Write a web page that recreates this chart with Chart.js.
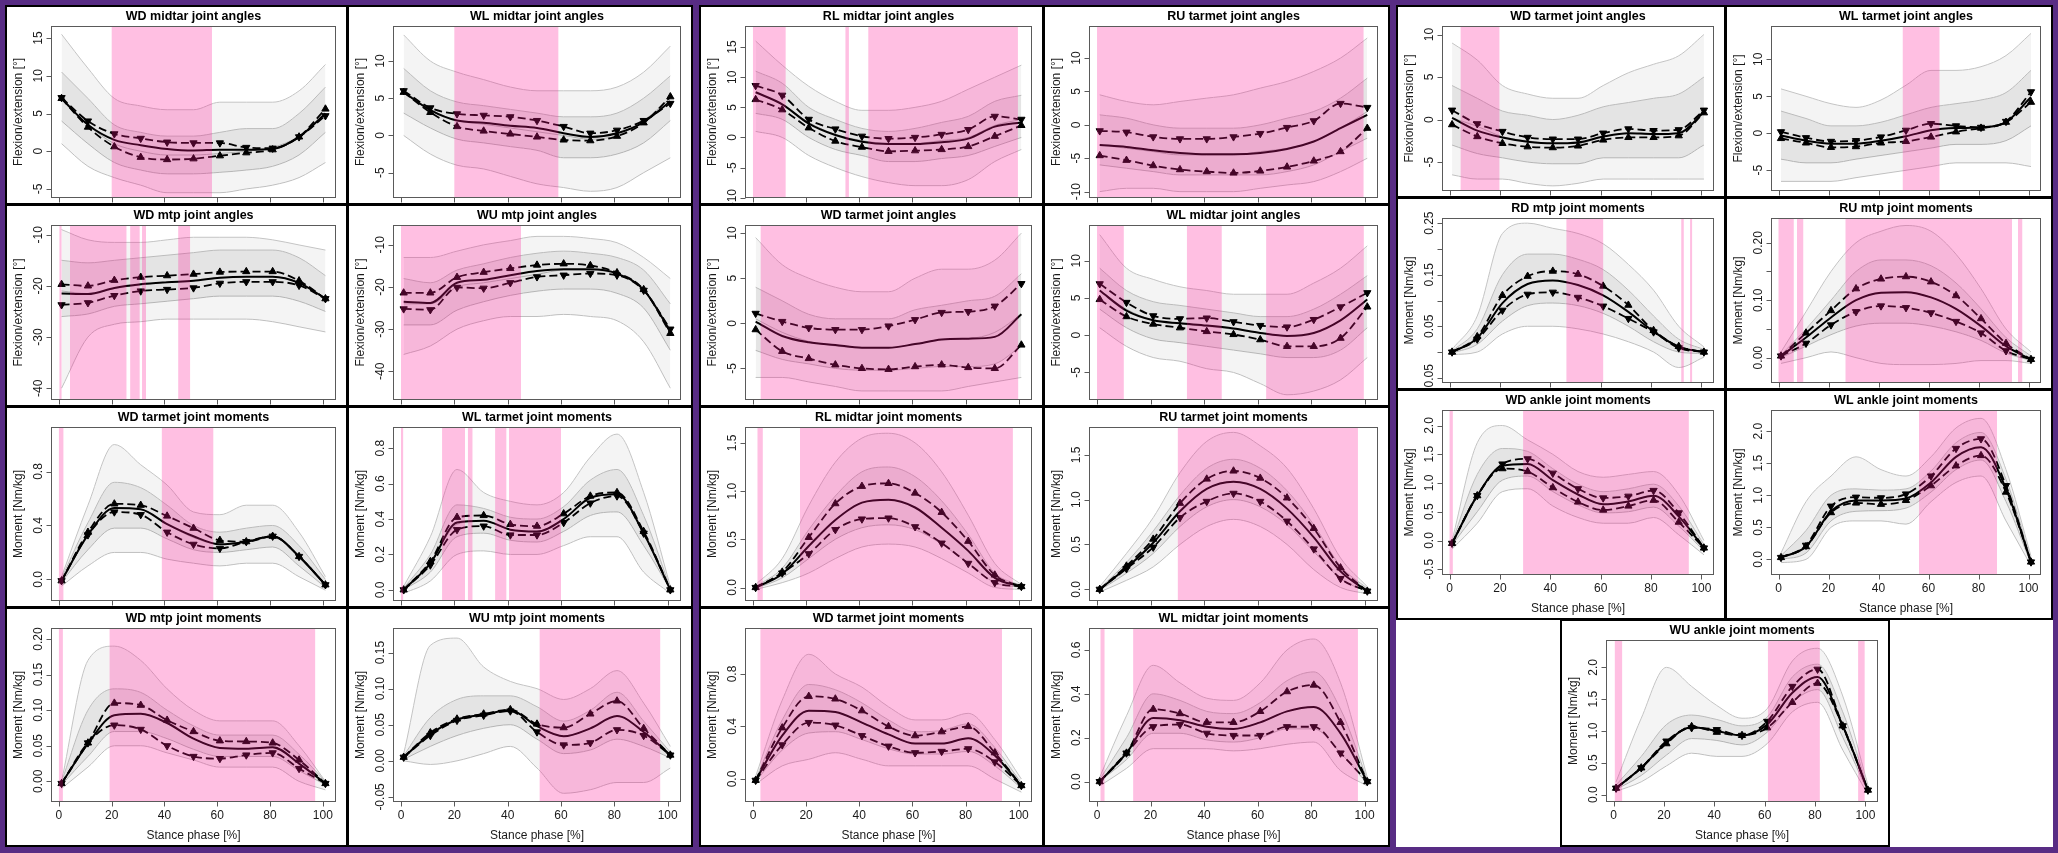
<!DOCTYPE html>
<html>
<head>
<meta charset="utf-8">
<script src="https://cdn.jsdelivr.net/npm/chart.js@4.4.1/dist/chart.umd.min.js"></script>
<style>
  html, body { margin: 0; padding: 0; background: #fff; }
  #page { position: relative; width: 2058px; height: 853px; overflow: hidden; background: #fff; }
  .frame { position: absolute; background: #582c84; }
  .panel { position: absolute; }
  .panel canvas { display: block; }
</style>
</head>
<body>
<div id="page"></div>
<script>
// stance phase samples (every 10 %) and x tick labels
var phase = [1, 11, 21, 31, 41, 51, 61, 71, 81, 91, 101];
var stanceTicks = [0, 20, 40, 60, 80, 100];
var angleLabel = 'Flexion/extension [°]';
var momentLabel = 'Moment [Nm/kg]';

// WD midtar joint angles
var p01Mean = [7.0, 3.5, 1.5, 0.8, 0.3, 0.1, 0.2, 0.2, 0.3, 1.9, 5.0];
var p01Up = [7.0, 3.2, 0.6, -0.8, -1.1, -1.0, -0.6, -0.2, 0.2, 1.9, 5.6];
var p01Down = [7.1, 4.0, 2.3, 1.7, 1.2, 1.1, 1.1, 0.5, 0.4, 1.9, 4.7];
var p01Gray = [[15.5, 11, 7, 6, 5.5, 5.5, 6.5, 6.5, 6.5, 8, 11.5], [10.5, 7, 3.5, 2.5, 2, 2, 2.5, 3, 3, 5, 8.5], [7, 3.5, 1, 0, -0.5, -0.5, -0.3, 0, 0.5, 2, 5], [4, 1, -1.5, -2.5, -3, -3, -2.8, -2.5, -2, -0.5, 2.5], [1, -2, -3.5, -4.5, -5.5, -5.5, -5.5, -5, -4.5, -3.5, -1.5]];
var p01Pink = [[20, 58]];
var p01Ticks = [-5, 0, 5, 10, 15];
var p01TickLabels = ['-5', '0', '5', '10', '15'];

// WL midtar joint angles
var p02Mean = [5.8, 3.4, 2.0, 1.7, 1.3, 1.0, 0.3, -0.2, 0.3, 1.8, 4.6];
var p02Up = [5.8, 3.1, 1.2, 0.6, 0.2, -0.2, -0.6, -0.7, -0.1, 1.7, 5.2];
var p02Down = [6.0, 3.7, 2.9, 2.7, 2.5, 2.0, 1.2, 0.3, 0.7, 2.0, 4.3];
var p02Gray = [[13.5, 10, 8.5, 7.5, 6.5, 6, 6, 6, 6.5, 8.5, 12], [9, 6, 4.5, 4, 3.5, 3, 2.5, 2.5, 3, 5, 8], [6, 3.5, 2, 1.5, 1, 0.5, 0, -0.5, 0, 2, 5], [3, 1, -0.5, -1, -1.5, -2, -3, -3, -2.5, -1, 2], [0, -2.5, -4, -4.5, -5.5, -6.5, -7, -7.5, -7, -5, -3]];
var p02Pink = [[20, 59]];
var p02Ticks = [-5, 0, 5, 10];
var p02TickLabels = ['-5', '0', '5', '10'];

// RL midtar joint angles
var p03Mean = [7.5, 5.5, 2.3, 0.4, -0.7, -1.1, -1.1, -0.8, -0.2, 1.8, 2.5];
var p03Up = [6.3, 4.6, 1.6, -0.6, -1.6, -2.3, -2.2, -2.0, -1.5, 0.2, 2.0];
var p03Down = [8.6, 7.0, 3.0, 1.4, 0.2, -0.2, 0.0, 0.5, 1.3, 3.5, 3.0];
var p03Gray = [[16, 12, 8.5, 6, 4.5, 4.5, 5, 6, 8, 10, 12], [11, 9, 5, 3, 1.5, 1, 1.5, 2.5, 3.5, 6, 7], [7.5, 5.5, 2.5, 0.5, -0.5, -1, -1, -0.5, 0, 2, 3], [4, 3, 0, -2, -3, -4, -4, -3.5, -3, -1.5, 0], [1, 0, -3, -5, -6.5, -7.5, -8, -8, -7, -4, -2]];
var p03Pink = [[0, 12.3], [34.8, 36.1], [43.4, 99.7]];
var p03Ticks = [-10, -5, 0, 5, 10, 15];
var p03TickLabels = ['-10', '-5', '0', '5', '10', '15'];

// RU tarmet joint angles
var p04Mean = [-3.0, -3.3, -3.8, -4.2, -4.4, -4.4, -4.2, -3.6, -2.5, -0.5, 1.5];
var p04Up = [-4.6, -5.3, -6.1, -6.7, -7.0, -7.2, -6.9, -6.3, -5.4, -4.0, -0.5];
var p04Down = [-0.9, -1.1, -1.8, -2.1, -2.1, -1.8, -1.3, -0.4, 0.6, 3.2, 2.6];
var p04Gray = [[4.5, 3.5, 3, 3.5, 4, 4.5, 5.5, 6.5, 8, 10, 13], [1.5, 1, 0, -0.5, -0.5, -0.5, 0, 1, 2, 4, 7], [-3, -3.5, -4, -4.5, -4.5, -4.5, -4, -3.5, -2.5, -0.5, 2], [-6, -6.5, -7, -7.5, -7.5, -7.5, -7.5, -7, -6, -4, -2], [-10, -9.5, -9.5, -10, -10, -10, -9.5, -9, -8.5, -7, -5]];
var p04Pink = [[0, 99.6]];
var p04Ticks = [-10, -5, 0, 5, 10];
var p04TickLabels = ['-10', '-5', '0', '5', '10'];

// WD mtp joint angles
var p05Mean = [-21.5, -21.6, -20.4, -19.7, -19.3, -19.0, -18.4, -18.2, -18.2, -19.4, -22.5];
var p05Up = [-19.7, -20.0, -18.9, -18.3, -18.0, -17.7, -17.3, -17.2, -17.2, -19.0, -22.5];
var p05Down = [-23.7, -23.3, -21.9, -21.0, -20.7, -20.4, -19.5, -19.2, -19.2, -19.9, -22.5];
var p05Gray = [[-9, -11, -11.5, -11.5, -11, -10.5, -10.5, -10.5, -11, -12, -13], [-15, -15.5, -15, -14.5, -14, -13.5, -13, -13, -13, -14.5, -18], [-21, -21.5, -20.5, -19.8, -19.3, -19, -18.5, -18.2, -18.2, -19.5, -22.5], [-26, -25.5, -24, -23.5, -23, -22.5, -22, -22, -22, -23, -25], [-40, -30, -27.5, -27, -26.5, -26.5, -26.5, -26.5, -27, -28, -29]];
var p05Pink = [[0.2, 1.0], [4.2, 25.6], [27, 30.6], [31.5, 33], [45.2, 49.7]];
var p05Ticks = [-40, -30, -20, -10];
var p05TickLabels = ['-40', '-30', '-20', '-10'];

// WU mtp joint angles
var p06Mean = [-23.5, -23.8, -19.0, -18.3, -17.2, -16.2, -15.8, -15.8, -16.8, -20.7, -30.5];
var p06Up = [-21.4, -21.4, -17.7, -16.5, -15.6, -14.8, -14.5, -14.9, -16.6, -20.6, -31.0];
var p06Down = [-25.2, -25.4, -20.1, -20.3, -19.0, -17.6, -17.2, -16.8, -17.2, -20.8, -30.0];
var p06Gray = [[-13, -13, -11.5, -10, -9, -8, -8, -8.5, -9.5, -13, -18], [-18, -19, -16, -14.5, -13, -12, -11.5, -12, -13, -16, -24], [-24, -24, -20, -19, -18, -17, -16, -16, -17, -20.5, -30], [-29, -29, -25.5, -23.5, -22, -21, -20.5, -20.5, -21.5, -25, -35], [-36, -34, -30, -28, -27, -27, -26.5, -27, -28, -33, -44]];
var p06Pink = [[0, 45]];
var p06Ticks = [-40, -30, -20, -10];
var p06TickLabels = ['-40', '-30', '-20', '-10'];

// WD tarmet joint moments (row 3)
var p07Mean = [-0.01, 0.33, 0.53, 0.52, 0.41, 0.32, 0.26, 0.28, 0.32, 0.17, -0.04];
var p07Up = [-0.01, 0.35, 0.56, 0.55, 0.47, 0.38, 0.29, 0.28, 0.32, 0.17, -0.04];
var p07Down = [-0.01, 0.33, 0.50, 0.48, 0.35, 0.26, 0.23, 0.28, 0.32, 0.17, -0.04];
var p07Gray = [[0.02, 0.55, 1.0, 0.85, 0.7, 0.5, 0.48, 0.55, 0.55, 0.35, 0.02], [0.01, 0.42, 0.72, 0.68, 0.55, 0.4, 0.35, 0.38, 0.4, 0.25, 0], [-0.01, 0.32, 0.53, 0.52, 0.41, 0.31, 0.26, 0.28, 0.31, 0.17, -0.04], [-0.02, 0.22, 0.38, 0.38, 0.3, 0.22, 0.2, 0.22, 0.24, 0.1, -0.06], [-0.05, 0.1, 0.2, 0.2, 0.15, 0.12, 0.1, 0.12, 0.12, 0.02, -0.08]];
var p07Pink = [[0, 1.7], [39, 58.5]];
var p07Ticks = [0, 0.4, 0.8];
var p07TickLabels = ['0.0', '0.4', '0.8'];

// WL tarmet joint moments
var p08Mean = [0, 0.15, 0.38, 0.39, 0.34, 0.33, 0.40, 0.52, 0.54, 0.32, 0.0];
var p08Up = [0, 0.16, 0.41, 0.42, 0.37, 0.36, 0.43, 0.53, 0.55, 0.33, 0.0];
var p08Down = [0, 0.14, 0.34, 0.36, 0.31, 0.31, 0.38, 0.49, 0.53, 0.32, 0.0];
var p08Gray = [[0.02, 0.3, 0.68, 0.55, 0.5, 0.48, 0.55, 0.75, 0.88, 0.55, 0.02], [0.01, 0.2, 0.48, 0.46, 0.41, 0.4, 0.47, 0.62, 0.68, 0.42, 0.01], [0, 0.15, 0.37, 0.39, 0.34, 0.33, 0.4, 0.52, 0.54, 0.32, 0], [0, 0.1, 0.3, 0.32, 0.28, 0.27, 0.33, 0.42, 0.44, 0.25, 0], [-0.02, 0.05, 0.2, 0.22, 0.2, 0.2, 0.25, 0.3, 0.3, 0.1, -0.02]];
var p08Pink = [[0, 0.8], [15.4, 24], [25.1, 26.8], [35.3, 39.5], [40.5, 60]];
var p08Ticks = [0, 0.2, 0.4, 0.6, 0.8];
var p08TickLabels = ['0.0', '0.2', '0.4', '0.6', '0.8'];

// WD tarmet joint angles (row 2)
var p09Mean = [0.2, -1.4, -2.1, -2.4, -2.7, -2.7, -2.3, -1.8, -1.7, -1.5, 1.0];
var p09Up = [-0.7, -3.1, -3.9, -4.6, -5.0, -5.1, -4.8, -4.6, -4.9, -5.0, -2.4];
var p09Down = [1.1, 0.2, -0.5, -0.7, -0.7, -0.3, 0.4, 1.2, 1.3, 1.9, 4.4];
var p09Gray = [[9.5, 6.5, 5, 4, 3.5, 3.5, 5, 6, 6, 7, 10], [4, 2.5, 1, 0.5, 0.5, 0.5, 1.5, 2, 2.5, 3, 5.5], [0.5, -1, -2, -2.5, -2.7, -2.7, -2.3, -1.8, -1.7, -1, 1], [-3, -4, -4.5, -5, -5.2, -5.2, -5, -4.8, -4.8, -4.5, -2.5], [-6, -6, -6.5, -7, -7.5, -7.5, -7.5, -7.5, -7, -6.5, -6]];
var p09Pink = [[2.9, 99.8]];
var p09Ticks = [-5, 0, 5, 10];
var p09TickLabels = ['-5', '0', '5', '10'];

// WL midtar joint angles (row 2)
var p10Mean = [6.0, 3.3, 2.0, 1.6, 1.3, 0.9, 0.3, -0.1, 0.3, 2.0, 4.8];
var p10Up = [4.8, 2.5, 1.5, 1.0, 0.5, 0.1, -0.6, -1.5, -1.5, -0.4, 3.8];
var p10Down = [6.9, 4.4, 2.6, 2.2, 2.3, 1.8, 1.3, 1.1, 2.1, 3.8, 5.7];
var p10Gray = [[13.5, 9, 7.5, 6.5, 6, 5.5, 5.5, 5.5, 7, 9, 12], [9, 6, 4.5, 4, 3.5, 3, 2.5, 2.5, 3.5, 5.5, 8], [6, 3.5, 2, 1.5, 1.2, 0.8, 0.3, -0.1, 0.3, 2, 4.8], [3.5, 1, -0.5, -1, -1.5, -2, -2.5, -3, -3, -2, 1], [1, -1.5, -3, -3.5, -4.5, -5, -6.5, -8, -7.5, -6, -3]];
var p10Pink = [[0, 10], [33.6, 46.6], [63.2, 99.7]];
var p10Ticks = [-5, 0, 5, 10];
var p10TickLabels = ['-5', '0', '5', '10'];

// RL midtar joint moments
var p11Mean = [0, 0.14, 0.43, 0.70, 0.88, 0.91, 0.83, 0.62, 0.38, 0.10, 0.01];
var p11Up = [0, 0.16, 0.52, 0.87, 1.05, 1.08, 0.98, 0.78, 0.48, 0.13, 0.01];
var p11Down = [0, 0.15, 0.35, 0.60, 0.71, 0.72, 0.63, 0.46, 0.25, 0.05, 0.01];
var p11Gray = [[0.03, 0.3, 0.85, 1.3, 1.55, 1.6, 1.5, 1.2, 0.75, 0.25, 0.03], [0.01, 0.2, 0.6, 0.95, 1.2, 1.25, 1.15, 0.9, 0.55, 0.15, 0.02], [0, 0.14, 0.43, 0.7, 0.88, 0.91, 0.83, 0.62, 0.38, 0.1, 0.01], [-0.01, 0.1, 0.3, 0.5, 0.62, 0.65, 0.6, 0.45, 0.25, 0.05, 0], [-0.02, 0.05, 0.15, 0.3, 0.42, 0.45, 0.42, 0.3, 0.15, 0, -0.02]];
var p11Pink = [[1.7, 3.7], [17.7, 97.8]];
var p11Ticks = [0, 0.5, 1, 1.5];
var p11TickLabels = ['0.0', '0.5', '1.0', '1.5'];

// RU tarmet joint moments
var p12Mean = [0, 0.24, 0.52, 0.87, 1.12, 1.20, 1.12, 0.90, 0.58, 0.20, -0.02];
var p12Up = [0, 0.26, 0.56, 0.96, 1.23, 1.32, 1.24, 1.02, 0.68, 0.24, -0.02];
var p12Down = [0, 0.23, 0.47, 0.80, 0.98, 1.07, 0.98, 0.76, 0.45, 0.12, -0.02];
var p12Gray = [[0.03, 0.4, 0.8, 1.3, 1.65, 1.75, 1.6, 1.35, 0.9, 0.35, 0.03], [0.01, 0.3, 0.65, 1.05, 1.35, 1.45, 1.35, 1.1, 0.72, 0.26, 0.01], [0, 0.24, 0.52, 0.87, 1.12, 1.2, 1.12, 0.9, 0.58, 0.2, -0.02], [-0.01, 0.18, 0.4, 0.7, 0.92, 1.0, 0.92, 0.72, 0.42, 0.12, -0.03], [-0.03, 0.1, 0.25, 0.5, 0.7, 0.78, 0.7, 0.5, 0.22, 0.02, -0.05]];
var p12Pink = [[30.2, 97.5]];
var p12Ticks = [0, 0.5, 1, 1.5];
var p12TickLabels = ['0.0', '0.5', '1.0', '1.5'];

// WD mtp joint moments
var p13Mean = [-0.003, 0.053, 0.093, 0.095, 0.082, 0.060, 0.047, 0.046, 0.048, 0.025, -0.003];
var p13Up = [-0.003, 0.054, 0.110, 0.107, 0.086, 0.070, 0.057, 0.056, 0.054, 0.030, -0.003];
var p13Down = [-0.003, 0.054, 0.079, 0.073, 0.050, 0.035, 0.032, 0.037, 0.040, 0.018, -0.003];
var p13Gray = [[0.0, 0.17, 0.19, 0.17, 0.13, 0.1, 0.085, 0.085, 0.085, 0.05, 0.0], [0.0, 0.1, 0.13, 0.125, 0.1, 0.078, 0.065, 0.065, 0.065, 0.038, 0], [-0.003, 0.053, 0.093, 0.095, 0.082, 0.06, 0.047, 0.046, 0.048, 0.025, -0.003], [-0.005, 0.035, 0.07, 0.07, 0.06, 0.045, 0.035, 0.035, 0.035, 0.015, -0.005], [-0.01, 0.02, 0.05, 0.05, 0.04, 0.03, 0.02, 0.02, 0.02, 0.0, -0.012]];
var p13Pink = [[0, 1.5], [19.2, 97.1]];
var p13Ticks = [0, 0.05, 0.1, 0.15, 0.2];
var p13TickLabels = ['0.00', '0.05', '0.10', '0.15', '0.20'];

// WU mtp joint moments
var p14Mean = [0.005, 0.037, 0.057, 0.064, 0.070, 0.048, 0.034, 0.045, 0.062, 0.040, 0.008];
var p14Up = [0.005, 0.039, 0.058, 0.065, 0.071, 0.051, 0.046, 0.065, 0.083, 0.045, 0.008];
var p14Down = [0.005, 0.035, 0.056, 0.063, 0.069, 0.040, 0.022, 0.025, 0.043, 0.035, 0.008];
var p14Gray = [[0.01, 0.16, 0.17, 0.13, 0.11, 0.1, 0.085, 0.1, 0.125, 0.08, 0.02], [0.007, 0.06, 0.085, 0.09, 0.09, 0.075, 0.055, 0.07, 0.095, 0.055, 0.012], [0.005, 0.037, 0.057, 0.064, 0.07, 0.048, 0.034, 0.045, 0.062, 0.04, 0.008], [0.002, 0.02, 0.035, 0.045, 0.05, 0.03, 0.01, 0.015, 0.03, 0.02, 0.004], [0, -0.005, 0.0, 0.01, 0.02, -0.01, -0.045, -0.04, -0.03, -0.03, -0.01]];
var p14Pink = [[52, 97.2]];
var p14Ticks = [-0.05, 0, 0.05, 0.1, 0.15];
var p14TickLabels = ['-0.05', '0.00', '0.05', '0.10', '0.15'];

// WD tarmet joint moments (row 4)
var p15Mean = [-0.01, 0.33, 0.52, 0.51, 0.43, 0.34, 0.27, 0.27, 0.31, 0.18, -0.05];
var p15Up = [-0.01, 0.39, 0.63, 0.61, 0.52, 0.40, 0.33, 0.36, 0.40, 0.20, -0.05];
var p15Down = [-0.01, 0.26, 0.43, 0.41, 0.33, 0.25, 0.20, 0.21, 0.23, 0.13, -0.05];
var p15Gray = [[0.02, 0.6, 0.95, 0.8, 0.7, 0.55, 0.45, 0.45, 0.5, 0.3, 0.0], [0.0, 0.45, 0.72, 0.68, 0.58, 0.45, 0.36, 0.37, 0.42, 0.24, -0.03], [-0.01, 0.33, 0.52, 0.51, 0.43, 0.34, 0.27, 0.27, 0.31, 0.18, -0.05], [-0.02, 0.22, 0.35, 0.36, 0.3, 0.23, 0.19, 0.19, 0.21, 0.1, -0.07], [-0.04, 0.1, 0.15, 0.2, 0.15, 0.1, 0.1, 0.1, 0.1, 0.0, -0.1]];
var p15Pink = [[2.8, 93.7]];
var p15Ticks = [0, 0.4, 0.8];
var p15TickLabels = ['0.0', '0.4', '0.8'];

// WL midtar joint moments
var p16Mean = [0, 0.13, 0.29, 0.28, 0.25, 0.24, 0.27, 0.32, 0.34, 0.22, 0.0];
var p16Up = [0, 0.13, 0.33, 0.31, 0.27, 0.27, 0.32, 0.41, 0.44, 0.27, 0.0];
var p16Down = [0, 0.13, 0.25, 0.26, 0.22, 0.21, 0.21, 0.25, 0.25, 0.13, 0.0];
var p16Gray = [[0.02, 0.3, 0.53, 0.45, 0.38, 0.37, 0.45, 0.6, 0.65, 0.45, 0.02], [0.01, 0.2, 0.4, 0.37, 0.32, 0.31, 0.36, 0.46, 0.5, 0.33, 0.01], [0, 0.13, 0.29, 0.28, 0.25, 0.24, 0.27, 0.32, 0.34, 0.22, 0], [0, 0.1, 0.22, 0.22, 0.19, 0.18, 0.2, 0.24, 0.24, 0.13, -0.01], [-0.02, 0.06, 0.15, 0.15, 0.15, 0.14, 0.15, 0.17, 0.18, 0.05, -0.02]];
var p16Pink = [[1.3, 2.8], [13.5, 97.5]];
var p16Ticks = [0, 0.2, 0.4, 0.6];
var p16TickLabels = ['0.0', '0.2', '0.4', '0.6'];

// WD tarmet joint angles (right block)
var p17Mean = [0.2, -1.3, -2.1, -2.6, -2.8, -2.7, -2.0, -1.6, -1.7, -1.6, 0.9];
var p17Up = [-0.6, -2.0, -2.8, -3.2, -3.3, -3.1, -2.4, -2.1, -2.1, -1.9, 0.8];
var p17Down = [1.1, -0.5, -1.4, -2.1, -2.3, -2.3, -1.6, -1.1, -1.3, -1.2, 1.1];
var p17Gray = [[9, 7, 4, 3, 2.5, 2.5, 4, 5.5, 6.5, 7.5, 10], [4, 2.5, 1, 0.5, 0, 0.5, 1.5, 2, 2.5, 3, 5], [0.2, -0.8, -2, -2.5, -2.8, -2.8, -2, -1.6, -1.8, -1.6, 0.8], [-3, -4, -4.5, -5, -5.2, -5.2, -4.5, -4.5, -4.5, -4.5, -3], [-6.5, -7, -7, -7.5, -7.8, -7.5, -7, -7, -7, -7, -7]];
var p17Pink = [[4.4, 19.8]];
var p17Ticks = [-5, 0, 5, 10];
var p17TickLabels = ['-5', '0', '5', '10'];

// WL tarmet joint angles
var p18Mean = [-0.3, -1.0, -1.4, -1.4, -1.0, -0.4, 0.4, 0.7, 0.8, 1.5, 4.9];
var p18Up = [-0.7, -1.3, -1.9, -1.8, -1.3, -1.1, -0.5, 0.2, 0.7, 1.5, 4.2];
var p18Down = [0.2, -0.6, -1.1, -1.0, -0.5, 0.4, 1.3, 1.0, 0.8, 1.6, 5.6];
var p18Gray = [[6, 5, 4, 3.5, 4.5, 6.5, 8.5, 8.5, 9, 10.5, 13.5], [3, 2, 1, 1, 1.5, 2.5, 3.5, 4, 4.5, 5.5, 8.5], [-0.3, -1, -1.4, -1.4, -1, -0.4, 0.4, 0.7, 0.8, 1.5, 4.9], [-3.5, -4, -4, -3.5, -3, -2.5, -2, -1.5, -1.5, -1, 1], [-6.5, -6.5, -6.5, -6, -5.5, -5, -4.5, -4, -4, -4, -4.5]];
var p18Pink = [[49.7, 64.4]];
var p18Ticks = [-5, 0, 5, 10];
var p18TickLabels = ['-5', '0', '5', '10'];

// RD mtp joint moments
var p19Mean = [0, 0.027, 0.095, 0.132, 0.139, 0.130, 0.110, 0.078, 0.040, 0.010, 0.0];
var p19Up = [0, 0.030, 0.110, 0.147, 0.157, 0.151, 0.128, 0.091, 0.042, 0.011, 0.0];
var p19Down = [0, 0.025, 0.081, 0.112, 0.116, 0.106, 0.089, 0.065, 0.039, 0.008, 0.0];
var p19Gray = [[0.005, 0.07, 0.23, 0.25, 0.24, 0.23, 0.21, 0.17, 0.12, 0.05, 0.01], [0.002, 0.045, 0.15, 0.19, 0.19, 0.18, 0.16, 0.12, 0.07, 0.025, 0.005], [0, 0.027, 0.095, 0.132, 0.139, 0.13, 0.11, 0.078, 0.04, 0.01, 0], [-0.002, 0.015, 0.06, 0.09, 0.095, 0.09, 0.075, 0.05, 0.02, 0, -0.003], [-0.005, 0.0, 0.035, 0.05, 0.05, 0.045, 0.035, 0.02, 0.0, -0.03, -0.01]];
var p19Pink = [[46.4, 61], [92, 93], [95.5, 96.3]];
var p19Ticks = [-0.05, 0, 0.05, 0.1, 0.15, 0.2, 0.25];
var p19TickLabels = ['-0.05', '', '0.05', '', '0.15', '', '0.25'];

// RU mtp joint moments
var p20Mean = [0.003, 0.035, 0.070, 0.100, 0.113, 0.114, 0.105, 0.085, 0.055, 0.020, -0.003];
var p20Up = [0.003, 0.043, 0.082, 0.120, 0.137, 0.141, 0.132, 0.108, 0.068, 0.025, -0.003];
var p20Down = [0.003, 0.025, 0.057, 0.080, 0.090, 0.087, 0.078, 0.063, 0.043, 0.012, -0.003];
var p20Gray = [[0.01, 0.08, 0.15, 0.2, 0.22, 0.23, 0.22, 0.18, 0.12, 0.05, 0.01], [0.005, 0.05, 0.1, 0.15, 0.17, 0.17, 0.16, 0.13, 0.085, 0.035, 0.003], [0.003, 0.035, 0.07, 0.1, 0.113, 0.114, 0.105, 0.085, 0.055, 0.02, -0.003], [0.0, 0.02, 0.04, 0.055, 0.06, 0.06, 0.055, 0.045, 0.03, 0.008, -0.005], [-0.01, 0.0, 0.01, 0.0, -0.01, -0.012, -0.012, -0.01, -0.005, -0.005, -0.01]];
var p20Pink = [[0, 6.1], [7.4, 9.9], [26.8, 93.4], [95.8, 97.5]];
var p20Ticks = [0, 0.05, 0.1, 0.15, 0.2];
var p20TickLabels = ['0.00', '', '0.10', '', '0.20'];

// WD ankle joint moments
var p21Mean = [-0.05, 0.78, 1.30, 1.33, 1.05, 0.80, 0.63, 0.68, 0.78, 0.42, -0.13];
var p21Up = [-0.05, 0.78, 1.25, 1.20, 0.92, 0.67, 0.53, 0.60, 0.70, 0.32, -0.13];
var p21Down = [-0.05, 0.78, 1.33, 1.42, 1.17, 0.90, 0.74, 0.77, 0.87, 0.48, -0.13];
var p21Gray = [[0.0, 1.7, 2.0, 1.75, 1.5, 1.2, 1.1, 1.15, 1.2, 0.8, 0.0], [-0.03, 1.15, 1.6, 1.55, 1.25, 0.98, 0.85, 0.9, 0.98, 0.6, -0.07], [-0.05, 0.78, 1.3, 1.33, 1.05, 0.8, 0.63, 0.68, 0.78, 0.42, -0.13], [-0.08, 0.5, 1.05, 1.12, 0.85, 0.62, 0.48, 0.5, 0.58, 0.25, -0.18], [-0.15, 0.3, 0.85, 0.9, 0.6, 0.4, 0.3, 0.3, 0.4, 0.1, -0.25]];
var p21Pink = [[0, 1.3], [29.2, 95]];
var p21Ticks = [-0.5, 0, 0.5, 1, 1.5, 2];
var p21TickLabels = ['-0.5', '0.0', '0.5', '1.0', '1.5', '2.0'];

// WL ankle joint moments
var p22Mean = [0.03, 0.20, 0.75, 0.92, 0.92, 0.95, 1.20, 1.60, 1.75, 1.10, -0.04];
var p22Up = [0.03, 0.20, 0.73, 0.88, 0.86, 0.92, 1.15, 1.46, 1.62, 1.05, -0.04];
var p22Down = [0.03, 0.22, 0.83, 0.97, 0.96, 1.02, 1.30, 1.73, 1.88, 1.15, -0.04];
var p22Gray = [[0.1, 0.9, 1.3, 1.6, 1.4, 1.3, 1.6, 2.05, 2.2, 1.4, 0.05], [0.06, 0.45, 1.0, 1.1, 1.08, 1.1, 1.38, 1.82, 1.98, 1.25, 0.0], [0.03, 0.2, 0.75, 0.92, 0.92, 0.95, 1.2, 1.6, 1.75, 1.1, -0.04], [0.0, 0.1, 0.6, 0.75, 0.76, 0.8, 1.05, 1.4, 1.55, 0.9, -0.07], [-0.05, 0.0, 0.5, 0.6, 0.6, 0.55, 0.9, 1.2, 1.3, 0.6, -0.1]];
var p22Pink = [[56.2, 87.4]];
var p22Ticks = [0, 0.5, 1, 1.5, 2];
var p22TickLabels = ['0.0', '0.5', '1.0', '1.5', '2.0'];

// WU ankle joint moments
var p23Mean = [0.10, 0.42, 0.82, 1.06, 1.00, 0.93, 1.10, 1.60, 1.85, 1.08, 0.07];
var p23Up = [0.10, 0.42, 0.80, 1.07, 0.98, 0.93, 1.05, 1.45, 1.75, 1.08, 0.07];
var p23Down = [0.10, 0.42, 0.84, 1.05, 1.02, 0.93, 1.15, 1.70, 1.97, 1.08, 0.07];
var p23Gray = [[0.2, 1.2, 2.0, 1.7, 1.4, 1.2, 1.35, 2.1, 2.3, 1.55, 0.15], [0.15, 0.6, 1.1, 1.25, 1.18, 1.08, 1.22, 1.85, 2.05, 1.3, 0.1], [0.1, 0.42, 0.82, 1.06, 1.0, 0.93, 1.1, 1.6, 1.85, 1.08, 0.07], [0.08, 0.3, 0.62, 0.88, 0.85, 0.78, 0.98, 1.45, 1.65, 0.9, 0.04], [0.05, 0.2, 0.45, 0.65, 0.6, 0.6, 0.8, 1.3, 1.45, 0.7, 0.0]];
var p23Pink = [[0.5, 3.4], [61.3, 81.9], [97.1, 99.7]];
var p23Ticks = [0, 0.5, 1, 1.5, 2];
var p23TickLabels = ['0.0', '0.5', '1.0', '1.5', '2.0'];

// panel table: title, y label, position [x, y, w, h], x labels?, y range, data
var panels = [
  ['WD midtar joint angles', angleLabel, [5, 5, 343, 200], false, [-6.2, 16.6], p01Mean, p01Up, p01Down, p01Gray, p01Pink, p01Ticks, p01TickLabels],
  ['WL midtar joint angles', angleLabel, [347, 5, 346, 200], false, [-8.4, 14.7], p02Mean, p02Up, p02Down, p02Gray, p02Pink, p02Ticks, p02TickLabels],
  ['RL midtar joint angles', angleLabel, [699, 5, 345, 200], false, [-10.05, 18.5], p03Mean, p03Up, p03Down, p03Gray, p03Pink, p03Ticks, p03TickLabels],
  ['RU tarmet joint angles', angleLabel, [1043, 5, 347, 200], false, [-10.95, 14.8], p04Mean, p04Up, p04Down, p04Gray, p04Pink, p04Ticks, p04TickLabels],
  ['WD mtp joint angles', angleLabel, [5, 204, 343, 203], false, [-42.3, -8.1], p05Mean, p05Up, p05Down, p05Gray, p05Pink, p05Ticks, p05TickLabels],
  ['WU mtp joint angles', angleLabel, [347, 204, 346, 203], false, [-46.8, -5.3], p06Mean, p06Up, p06Down, p06Gray, p06Pink, p06Ticks, p06TickLabels],
  ['WD tarmet joint moments', momentLabel, [5, 406, 343, 202], false, [-0.16, 1.13], p07Mean, p07Up, p07Down, p07Gray, p07Pink, p07Ticks, p07TickLabels],
  ['WL tarmet joint moments', momentLabel, [347, 406, 346, 202], false, [-0.063, 0.92], p08Mean, p08Up, p08Down, p08Gray, p08Pink, p08Ticks, p08TickLabels],
  ['WD tarmet joint angles', angleLabel, [699, 204, 345, 203], false, [-8.5, 10.9], p09Mean, p09Up, p09Down, p09Gray, p09Pink, p09Ticks, p09TickLabels],
  ['WL midtar joint angles', angleLabel, [1043, 204, 347, 203], false, [-8.7, 14.8], p10Mean, p10Up, p10Down, p10Gray, p10Pink, p10Ticks, p10TickLabels],
  ['RL midtar joint moments', momentLabel, [699, 406, 345, 202], false, [-0.14, 1.665], p11Mean, p11Up, p11Down, p11Gray, p11Pink, p11Ticks, p11TickLabels],
  ['RU tarmet joint moments', momentLabel, [1043, 406, 347, 202], false, [-0.13, 1.81], p12Mean, p12Up, p12Down, p12Gray, p12Pink, p12Ticks, p12TickLabels],
  ['WD mtp joint moments', momentLabel, [5, 607, 343, 240], true, [-0.029, 0.2155], p13Mean, p13Up, p13Down, p13Gray, p13Pink, p13Ticks, p13TickLabels],
  ['WU mtp joint moments', momentLabel, [347, 607, 346, 240], true, [-0.057, 0.184], p14Mean, p14Up, p14Down, p14Gray, p14Pink, p14Ticks, p14TickLabels],
  ['WD tarmet joint moments', momentLabel, [699, 607, 345, 240], true, [-0.175, 1.15], p15Mean, p15Up, p15Down, p15Gray, p15Pink, p15Ticks, p15TickLabels],
  ['WL midtar joint moments', momentLabel, [1043, 607, 347, 240], true, [-0.093, 0.70], p16Mean, p16Up, p16Down, p16Gray, p16Pink, p16Ticks, p16TickLabels],
  ['WD tarmet joint angles', angleLabel, [1396, 5, 330, 193], false, [-8.4, 11.0], p17Mean, p17Up, p17Down, p17Gray, p17Pink, p17Ticks, p17TickLabels],
  ['WL tarmet joint angles', angleLabel, [1725, 5, 328, 193], false, [-7.8, 14.5], p18Mean, p18Up, p18Down, p18Gray, p18Pink, p18Ticks, p18TickLabels],
  ['RD mtp joint moments', momentLabel, [1396, 197, 330, 193], false, [-0.06, 0.26], p19Mean, p19Up, p19Down, p19Gray, p19Pink, p19Ticks, p19TickLabels],
  ['RU mtp joint moments', momentLabel, [1725, 197, 328, 193], false, [-0.044, 0.243], p20Mean, p20Up, p20Down, p20Gray, p20Pink, p20Ticks, p20TickLabels],
  ['WD ankle joint moments', momentLabel, [1396, 389, 330, 231], true, [-0.6, 2.27], p21Mean, p21Up, p21Down, p21Gray, p21Pink, p21Ticks, p21TickLabels],
  ['WL ankle joint moments', momentLabel, [1725, 389, 328, 231], true, [-0.243, 2.33], p22Mean, p22Up, p22Down, p22Gray, p22Pink, p22Ticks, p22TickLabels],
  ['WU ankle joint moments', momentLabel, [1560, 619, 330, 228], true, [-0.117, 2.43], p23Mean, p23Up, p23Down, p23Gray, p23Pink, p23Ticks, p23TickLabels]
];

var page = document.getElementById('page');

// purple frames round the three blocks
[[0, 0, 2058, 5], [0, 847, 2058, 6], [0, 0, 5, 853], [693, 0, 6, 853], [1390, 0, 6, 853], [2053, 0, 5, 853]].forEach(function (r) {
  var d = document.createElement('div');
  d.className = 'frame';
  d.style.left = r[0] + 'px'; d.style.top = r[1] + 'px';
  d.style.width = r[2] + 'px'; d.style.height = r[3] + 'px';
  page.appendChild(d);
});

var FONT = '"Liberation Sans", Arial, sans-serif';

// R-like axes, pink significance spans and the panel frame
var rAxes = {
  id: 'rAxes',
  afterDatasetsDraw: function (chart, args, o) {
    var ctx = chart.ctx, a = chart.chartArea, xs = chart.scales.x, ys = chart.scales.y;
    ctx.save();
    ctx.beginPath();
    ctx.rect(a.left, a.top, a.right - a.left, a.bottom - a.top);
    ctx.clip();
    ctx.fillStyle = 'rgba(255,20,147,0.27)';
    o.pink.forEach(function (s) {
      var x0 = xs.getPixelForValue(s[0]), x1 = xs.getPixelForValue(s[1]);
      ctx.fillRect(x0, a.top, x1 - x0, a.bottom - a.top);
    });
    ctx.restore();

    ctx.save();
    var L = Math.round(a.left) + 0.5, R = Math.round(a.right) - 0.5;
    var T = Math.round(a.top) + 0.5, B = Math.round(a.bottom) - 0.5;
    ctx.strokeStyle = '#5a5a5a';
    ctx.lineWidth = 1;
    ctx.strokeRect(L, T, R - L, B - T);
    ctx.beginPath();
    stanceTicks.forEach(function (v) {
      var px = Math.round(xs.getPixelForValue(v)) + 0.5;
      ctx.moveTo(px, B); ctx.lineTo(px, B + 5);
    });
    o.ticks.forEach(function (v) {
      if (v < ys.min - 1e-9 || v > ys.max + 1e-9) return;
      var py = Math.round(ys.getPixelForValue(v)) + 0.5;
      ctx.moveTo(L, py); ctx.lineTo(L - 5, py);
    });
    ctx.stroke();

    ctx.fillStyle = '#1a1a1a';
    ctx.font = '12px ' + FONT;
    ctx.textAlign = 'center';
    ctx.textBaseline = 'middle';
    if (o.xLab) {
      stanceTicks.forEach(function (v) {
        ctx.fillText(String(v), xs.getPixelForValue(v), B + 14);
      });
      ctx.fillText('Stance phase [%]', (L + R) / 2, B + 34);
    }
    o.ticks.forEach(function (v, i) {
      if (v < ys.min - 1e-9 || v > ys.max + 1e-9 || !o.tickLabels[i]) return;
      ctx.save();
      ctx.translate(L - 13, ys.getPixelForValue(v));
      ctx.rotate(-Math.PI / 2);
      ctx.fillText(o.tickLabels[i], 0, 0);
      ctx.restore();
    });
    ctx.save();
    ctx.translate(L - 33, (T + B) / 2);
    ctx.rotate(-Math.PI / 2);
    ctx.fillText(o.ylab, 0, 0);
    ctx.restore();

    ctx.fillStyle = '#000';
    ctx.font = 'bold 12.5px ' + FONT;
    ctx.fillText(o.title, (L + R) / 2, 12);

    ctx.strokeStyle = '#000';
    ctx.lineWidth = 2;
    ctx.strokeRect(1, 1, chart.width - 2, chart.height - 2);
    ctx.restore();
  }
};

function pts(arr) {
  return phase.map(function (p, i) { return { x: p, y: arr[i] }; });
}

panels.forEach(function (p) {
  var title = p[0], ylab = p[1], pos = p[2], xLab = p[3], yr = p[4];
  var mean = p[5], up = p[6], down = p[7], gray = p[8];

  var div = document.createElement('div');
  div.className = 'panel';
  div.style.left = pos[0] + 'px'; div.style.top = pos[1] + 'px';
  div.style.width = pos[2] + 'px'; div.style.height = pos[3] + 'px';
  var cv = document.createElement('canvas');
  cv.width = pos[2]; cv.height = pos[3];
  cv.style.width = pos[2] + 'px'; cv.style.height = pos[3] + 'px';
  div.appendChild(cv);
  page.appendChild(div);

  var groupStyle = {
    borderColor: '#000', borderWidth: 1.8, borderDash: [8, 4],
    pointStyle: 'triangle', pointRadius: 4.2, pointBackgroundColor: '#000',
    pointBorderColor: '#000', pointBorderWidth: 1, fill: false
  };
  var datasets = [
    { data: pts(mean), borderColor: '#000', borderWidth: 2, pointRadius: 0, fill: false },
    Object.assign({ data: pts(up) }, groupStyle),
    Object.assign({ data: pts(down), pointRotation: 180 }, groupStyle)
  ];
  gray.forEach(function (g, i) {
    var ds = { data: pts(g), borderColor: '#c4c4c4', borderWidth: 1, pointRadius: 0, fill: false };
    if (i === 0) { ds.fill = '+4'; ds.backgroundColor = 'rgba(0,0,0,0.045)'; }
    if (i === 1) { ds.fill = '+2'; ds.backgroundColor = 'rgba(0,0,0,0.065)'; }
    datasets.push(ds);
  });

  new Chart(cv, {
    type: 'line',
    data: { datasets: datasets },
    options: {
      responsive: false,
      animation: false,
      devicePixelRatio: 1,
      layout: { padding: { left: 46, right: 12, top: 21, bottom: xLab ? 45 : 7 } },
      elements: { line: { cubicInterpolationMode: 'monotone' } },
      scales: {
        x: { type: 'linear', min: -3, max: 105, display: false },
        y: { type: 'linear', min: yr[0], max: yr[1], display: false }
      },
      plugins: {
        legend: { display: false },
        tooltip: { enabled: false },
        rAxes: { title: title, ylab: ylab, xLab: xLab, pink: p[9], ticks: p[10], tickLabels: p[11] }
      }
    },
    plugins: [rAxes]
  });
});
</script>
</body>
</html>
